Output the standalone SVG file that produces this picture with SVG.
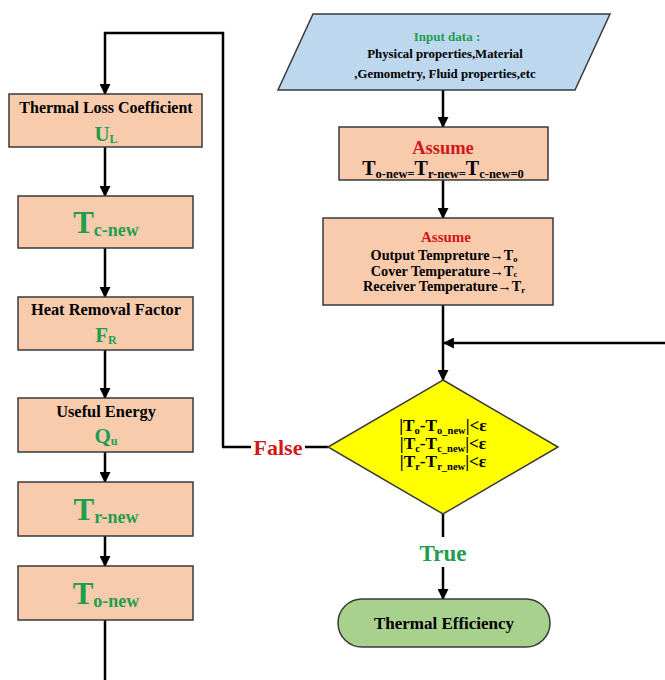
<svg xmlns="http://www.w3.org/2000/svg" width="665" height="680" viewBox="0 0 665 680">
<defs>
<style>
.box{fill:#F8CBAD;stroke:#3a3a3a;stroke-width:1.5}
.t{font-family:"Liberation Serif","Times New Roman",serif;font-weight:bold;text-anchor:middle;fill:#000}
.g{fill:#1E9E4E}
.r{fill:#D01818}
.ln{fill:none;stroke:#000;stroke-width:2.5}
</style>
<marker id="ah" viewBox="0 0 10 10" refX="9" refY="5" markerWidth="4.4" markerHeight="4.4" orient="auto" markerUnits="strokeWidth">
<path d="M0,0 L10,5 L0,10 z" fill="#000"/>
</marker>
</defs>
<rect width="665" height="680" fill="#fff"/>

<g id="connectors">
<path class="ln" d="M223,447 V33 H105 V94" marker-end="url(#ah)"/>
<path class="ln" d="M105,147 V196" marker-end="url(#ah)"/>
<path class="ln" d="M105,248 V297" marker-end="url(#ah)"/>
<path class="ln" d="M105,350 V398" marker-end="url(#ah)"/>
<path class="ln" d="M105,452 V482" marker-end="url(#ah)"/>
<path class="ln" d="M105,536 V566" marker-end="url(#ah)"/>
<path class="ln" d="M105,620 V680"/>
<path class="ln" d="M443,90 V127" marker-end="url(#ah)"/>
<path class="ln" d="M443,180 V218" marker-end="url(#ah)"/>
<path class="ln" d="M443,305 V380" marker-end="url(#ah)"/>
<path class="ln" d="M665,343 H444" marker-end="url(#ah)"/>
<path class="ln" d="M328,447 H305"/>
<path class="ln" d="M251,447 H222"/>
<path class="ln" d="M443,513 V537"/>
<path class="ln" d="M443,567 V599" marker-end="url(#ah)"/>
<text class="t r" x="278" y="455" font-size="22">False</text>
<text class="t g" x="443" y="561" font-size="23">True</text>
</g>

<g id="n-input">
<polygon points="313,14 610,14 575,90 278,90" fill="#BDD7EE" stroke="#3a3a3a" stroke-width="1.5"/>
<text class="t g" x="447" y="41" font-size="13">Input data :</text>
<text class="t" x="445" y="58" font-size="12.8">Physical properties,Material</text>
<text class="t" x="445" y="78" font-size="12.8">,Gemometry, Fluid properties,etc</text>
</g>

<g id="n-assume1">
<rect class="box" x="339" y="127" width="209" height="53"/>
<text class="t r" x="443" y="154" font-size="18.5">Assume</text>
<text class="t" x="443" y="175" font-size="20">T<tspan font-size="12.5" dy="3">o-new=</tspan><tspan dy="-3">T</tspan><tspan font-size="12.5" dy="3">r-new=</tspan><tspan dy="-3">T</tspan><tspan font-size="12.5" dy="3">c-new=0</tspan></text>
</g>

<g id="n-assume2">
<rect class="box" x="323" y="218" width="230" height="87"/>
<text class="t r" x="446" y="242" font-size="15">Assume</text>
<text class="t" x="444" y="260" font-size="14.2">Output Tempreture→T<tspan font-size="8.5" dy="1.5">o</tspan></text>
<text class="t" x="444" y="275.5" font-size="14.2">Cover Temperature→T<tspan font-size="8.5" dy="1.5">c</tspan></text>
<text class="t" x="444" y="291" font-size="14.2">Receiver Temperature→T<tspan font-size="8.5" dy="1.5">r</tspan></text>
</g>

<g id="n-check">
<polygon points="443,380 558,447 443,514 328,447" fill="#FFFF00" stroke="#3a3a3a" stroke-width="1.5"/>
<text class="t" x="443" y="431" font-size="17.3">|T<tspan font-size="10.5" dy="3">o</tspan><tspan dy="-3">-T</tspan><tspan font-size="10.5" dy="3">o_new</tspan><tspan dy="-3">|&lt;ε</tspan></text>
<text class="t" x="443" y="449" font-size="17.3">|T<tspan font-size="10.5" dy="3">c</tspan><tspan dy="-3">-T</tspan><tspan font-size="10.5" dy="3">c_new</tspan><tspan dy="-3">|&lt;ε</tspan></text>
<text class="t" x="443" y="467" font-size="17.3">|T<tspan font-size="10.5" dy="3">r</tspan><tspan dy="-3">-T</tspan><tspan font-size="10.5" dy="3">r_new</tspan><tspan dy="-3">|&lt;ε</tspan></text>
</g>

<g id="n-efficiency">
<rect x="338" y="599" width="212" height="48" rx="24" ry="24" fill="#A9D18E" stroke="#3a3a3a" stroke-width="1.5"/>
<text class="t" x="444" y="629" font-size="17">Thermal Efficiency</text>
</g>

<g id="n-ul">
<rect class="box" x="9" y="94" width="193" height="53"/>
<text class="t" x="106" y="113" font-size="16">Thermal Loss Coefficient</text>
<text class="t g" x="106" y="141" font-size="21">U<tspan font-size="12" dy="2">L</tspan></text>
</g>

<g id="n-tc">
<rect class="box" x="18" y="196" width="175" height="52"/>
<text class="t g" x="106" y="233" font-size="31">T<tspan font-size="18" dy="3">c-new</tspan></text>
</g>

<g id="n-fr">
<rect class="box" x="18" y="297" width="175" height="53"/>
<text class="t" x="106" y="315" font-size="16.4">Heat Removal Factor</text>
<text class="t g" x="106" y="342" font-size="21">F<tspan font-size="12" dy="2">R</tspan></text>
</g>

<g id="n-qu">
<rect class="box" x="18" y="398" width="175" height="54"/>
<text class="t" x="106" y="417" font-size="16.4">Useful Energy</text>
<text class="t g" x="106" y="443" font-size="21">Q<tspan font-size="12" dy="2">u</tspan></text>
</g>

<g id="n-tr">
<rect class="box" x="18" y="482" width="175" height="54"/>
<text class="t g" x="106" y="520" font-size="31">T<tspan font-size="18" dy="3">r-new</tspan></text>
</g>

<g id="n-to">
<rect class="box" x="18" y="566" width="175" height="54"/>
<text class="t g" x="106" y="604" font-size="31">T<tspan font-size="18" dy="3">o-new</tspan></text>
</g>
</svg>
